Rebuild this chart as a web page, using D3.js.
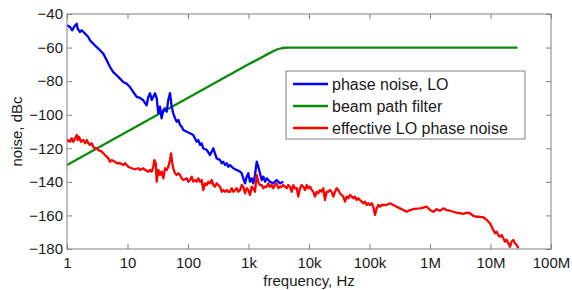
<!DOCTYPE html>
<html>
<head>
<meta charset="utf-8">
<script src="https://cdn.jsdelivr.net/npm/d3@7"></script>
<style>
  html, body { margin: 0; padding: 0; background: #fff; }
  svg { display: block; font-family: "Liberation Sans", Arial, sans-serif; }
</style>
</head>
<body>
<svg id="chart" width="572" height="290"></svg>
<script>
// x ticks (Hz) and their labels
const freqTicks = [1, 10, 100, 1e3, 1e4, 1e5, 1e6, 1e7, 1e8];
const freqTickLabels = ["1", "10", "100", "1k", "10k", "100k", "1M", "10M", "100M"];
const noiseTicks = [-180, -160, -140, -120, -100, -80, -60, -40];

const seriesNames = ["phase noise, LO", "beam path filter", "effective LO phase noise"];
const seriesColors = ["#0000ff", "#0a8a0a", "#ff0000"];

// phase noise, LO
const blueFreq = [1, 1.12, 1.22, 1.36, 1.45, 1.5, 1.64, 1.75, 1.99, 2.25, 2.4, 2.72, 3.1, 3.51, 3.98, 4.53, 5.14, 5.82, 6.62, 7.52,
  8.53, 9.7, 11, 12.5, 14.2, 16.1, 18.2, 20.7, 22.1, 23.6, 25.1, 26.7, 28.5, 30.4, 32.3, 34.4, 36.6, 39.1, 41.7, 44.5,
  47.2, 50.4, 53.8, 57.1, 61, 65, 69.2, 73.8, 78.7, 83.6, 95.3, 108, 122, 139, 148, 158, 168, 179, 204, 231,
  247, 262, 279, 298, 338, 361, 383, 409, 437, 463, 494, 561, 638, 724, 773, 820, 875, 933, 993, 1059,
  1130, 1200, 1279, 1368, 1452, 1549, 1652, 1758, 1875, 2000, 2265, 2570, 2924, 3319, 3758];
const blueNoise = [-46.7, -47.7, -49.7, -46.7, -45.8, -48.8, -50.7, -49.7, -51.7, -53.7, -55.7, -57.7, -59.7, -61.6, -63.6, -67.6, -71.6, -74.6, -76.5, -78.5,
  -80.5, -81.5, -83.5, -86.5, -89.4, -90, -91.4, -94.4, -89.3, -87.2, -91.2, -89.3, -87.2, -90.2, -99.2, -95.2, -102.1, -97.2, -96.2, -98.2,
  -91.2, -87.2, -95.2, -99.2, -102.1, -104.2, -103.1, -106.1, -107.1, -109.1, -110.1, -111.1, -112.1, -116.1, -115.1, -118, -117, -120, -121, -124,
  -122, -120, -123, -126, -127, -128.9, -128, -130, -128.9, -131, -130, -131.9, -132.9, -133.9, -134.9, -137.9, -140.9, -136.9, -134.9, -139.9,
  -137.9, -140.9, -135.9, -128, -131, -134.9, -138.9, -136.9, -139.9, -137.9, -139.9, -140.9, -138.9, -140.9, -139.9];

// beam path filter
const greenFreq = [1, 1000, 1500, 2000, 2500, 3000, 3500, 4000, 4500, 2.8e7];
const greenNoise = [-130, -70, -66.6, -64.2, -62.3, -61, -60.4, -60.1, -60, -60];

// effective LO phase noise
const redFreq = [1, 1.05, 1.12, 1.2, 1.27, 1.36, 1.45, 1.5, 1.58, 1.7, 1.86, 1.99, 2.12, 2.25, 2.4, 2.56, 2.72, 2.9, 3.1, 3.29,
  3.75, 3.98, 4.25, 4.53, 4.82, 5.14, 5.48, 6.21, 6.62, 7.52, 8.53, 9.09, 10.3, 11.7, 13.3, 15.1, 16.1, 18.2, 19.5, 22.1,
  23.6, 25.1, 26.7, 27.7, 29.3, 30.4, 32.3, 34.4, 36.6, 39.1, 41.7, 44.5, 47.2, 50.4, 52.4, 55, 57.1, 61, 65, 69.2,
  73.8, 78.7, 83.6, 95.3, 101, 108, 115, 122, 131, 139, 148, 158, 168, 179, 191, 204, 217, 231, 247, 262,
  279, 298, 317, 338, 361, 383, 409, 437, 463, 494, 527, 561, 598, 638, 678, 724, 773, 820, 875, 933,
  993, 1059, 1130, 1200, 1279, 1368, 1452, 1549, 1652, 1758, 1875, 2000, 2124, 2265, 2418, 2570, 2742, 2924, 3110, 3319,
  3538, 3758, 4276, 4550, 4853, 5176, 5500, 5870, 6264, 6655, 7100, 7574, 8048, 8590, 9160, 9730, 10400, 11090, 11780, 12560,
  13400, 14250, 15200, 16220, 17220, 18370, 19620, 20840, 22230, 23710, 25220, 26900, 28710, 30480, 32520, 34670, 36900, 39350, 41980, 44630,
  47620, 50800, 53950, 57540, 61380, 65310, 69660, 74300, 79000, 84300, 89900, 95500, 101900, 108700, 115600, 123300, 131500, 139700, 149200, 159200,
  169100, 192300, 218300, 247200, 281800, 319300, 362200, 412100, 466700, 529600, 602600, 683900, 774500, 881000, 1.0e6, 1.135e6, 1.291e6, 1.463e6, 1.66e6, 1.888e6,
  2.142e6, 2.428e6, 2.762e6, 3.133e6, 3.551e6, 4.045e6, 4.583e6, 5.2e6, 5.916e6, 6.699e6, 7.603e6, 8.65e6, 9.817e6, 1.047e7, 1.112e7, 1.186e7, 1.265e7, 1.346e7, 1.435e7, 1.531e7,
  1.629e7, 1.738e7, 1.853e7, 1.968e7, 2.1e7, 2.24e7, 2.382e7, 2.541e7, 2.71e7, 2.884e7];
const redNoise = [-116.1, -115.1, -116.1, -114, -116.1, -114, -112.1, -115.1, -113.1, -116.1, -115.1, -117, -115.1, -117, -118, -117, -119.1, -120, -120, -121,
  -122, -123, -124, -125, -126, -128, -127, -128, -128.9, -128.9, -130, -128.9, -131, -131.9, -132.5, -131.9, -132.9, -131.9, -132.9, -133.9,
  -132.9, -133.9, -131, -127, -128.9, -139.9, -132.9, -135.9, -133.9, -137.9, -131.9, -132.9, -131, -127, -123, -128.9, -131.9, -134.9, -135.9, -134.9,
  -135.9, -137.9, -138.9, -137.9, -139.9, -138.9, -136.9, -139.9, -138.9, -139.9, -137.9, -139.9, -138.9, -144.9, -140.9, -141.9, -139.9, -140.9, -138.9, -141.9,
  -142.9, -140.9, -141.9, -142.9, -145.9, -144.9, -145.9, -144.9, -145.9, -145.9, -143.8, -145.9, -144.9, -143.8, -145.9, -144.9, -141.9, -142.9, -146.8, -143.8,
  -144.9, -147.8, -142.9, -143.8, -145.9, -135.9, -139.9, -141.9, -141.9, -143.8, -142.9, -142.9, -140.9, -142.9, -141.9, -143.8, -141.9, -140.9, -143.8, -142.9,
  -142.9, -141.9, -143.8, -141.9, -142.9, -145.9, -141.9, -143.8, -143.8, -148.8, -143.8, -141.9, -142.9, -144.9, -141.9, -143.8, -142.9, -144.9, -145.9, -148.8,
  -145.9, -146.8, -144.9, -145.9, -143.8, -150.8, -145.9, -145.9, -144.9, -145.9, -148.8, -145.9, -143.8, -144.9, -146.8, -147.8, -148.8, -151.8, -148.8, -149.8,
  -147.8, -148.8, -149.8, -148.8, -150.8, -149.8, -150.8, -151.8, -152.8, -151.8, -153.8, -152.8, -153.8, -152.8, -154.8, -159.7, -155.8, -153.8, -154.8, -153.8,
  -153.8, -153.8, -152.8, -153.8, -154.8, -155.8, -156.8, -157.8, -156.8, -156.3, -156, -155.8, -155.4, -154.8, -156.8, -157.8, -156.3, -157.2, -155.8, -156.8,
  -157.2, -157.8, -158.4, -158.7, -159.1, -158.4, -158.7, -160.3, -160.8, -160.8, -161.1, -162.7, -164.7, -166.7, -168.7, -170.6, -169.7, -171.7, -172.7, -171.7,
  -173.6, -175.6, -174.6, -176.6, -178.6, -175.6, -174.6, -176.6, -177.6, -179.6];

const W = 572, H = 290;
const margin = { left: 67, top: 14, right: 21, bottom: 41 };
const plotW = W - margin.left - margin.right;
const plotH = H - margin.top - margin.bottom;

const svg = d3.select("#chart");
svg.append("rect").attr("width", W).attr("height", H).attr("fill", "#fff");

const x = d3.scaleLog().domain([1, 1e8]).range([margin.left, margin.left + plotW]);
const y = d3.scaleLinear().domain([-180, -40]).range([margin.top + plotH, margin.top]);

const axisColor = "#808080";
const textColor = "#1a1a1a";

svg.append("clipPath").attr("id", "plotClip")
  .append("rect")
  .attr("x", margin.left).attr("y", margin.top - 2)
  .attr("width", plotW).attr("height", plotH + 4);

// axes with inward ticks (MATLAB style box)
function styleAxis(g, showText) {
  g.select(".domain").remove();
  g.selectAll(".tick line").attr("stroke", axisColor);
  g.selectAll(".tick text")
    .attr("fill", textColor)
    .attr("font-size", 15)
    .style("display", showText ? null : "none");
}

svg.append("g")
  .attr("transform", `translate(0,${margin.top + plotH})`)
  .call(d3.axisBottom(x).tickValues(freqTicks)
    .tickFormat((d, i) => freqTickLabels[i])
    .tickSizeInner(-5).tickSizeOuter(0).tickPadding(8))
  .call(g => styleAxis(g, true));

svg.append("g")
  .attr("transform", `translate(0,${margin.top})`)
  .call(d3.axisTop(x).tickValues(freqTicks).tickSizeInner(-5).tickSizeOuter(0))
  .call(g => styleAxis(g, false));

svg.append("g")
  .attr("transform", `translate(${margin.left},0)`)
  .call(d3.axisLeft(y).tickValues(noiseTicks).tickSizeInner(-5).tickSizeOuter(0).tickPadding(4))
  .call(g => styleAxis(g, true));

svg.append("g")
  .attr("transform", `translate(${margin.left + plotW},0)`)
  .call(d3.axisRight(y).tickValues(noiseTicks).tickSizeInner(-5).tickSizeOuter(0))
  .call(g => styleAxis(g, false));

// lines
const line = d3.line().x(d => x(d.f)).y(d => y(d.v));
const zip = (fs, vs) => fs.map((f, i) => ({ f: f, v: vs[i] }));
const series = [zip(blueFreq, blueNoise), zip(greenFreq, greenNoise), zip(redFreq, redNoise)];

const drawOrder = [1, 0, 2];
drawOrder.forEach(i => {
  svg.append("path")
    .datum(series[i])
    .attr("clip-path", "url(#plotClip)")
    .attr("fill", "none")
    .attr("stroke", seriesColors[i])
    .attr("stroke-width", 2.3)
    .attr("stroke-linejoin", "round")
    .attr("d", line);
});

// box
svg.append("rect")
  .attr("x", margin.left).attr("y", margin.top)
  .attr("width", plotW).attr("height", plotH)
  .attr("fill", "none").attr("stroke", axisColor).attr("stroke-width", 1);

// axis titles
svg.append("text")
  .attr("x", margin.left + plotW / 2).attr("y", 286)
  .attr("text-anchor", "middle").attr("font-size", 15).attr("fill", textColor)
  .text("frequency, Hz");

svg.append("text")
  .attr("transform", `translate(22,${margin.top + plotH / 2}) rotate(-90)`)
  .attr("text-anchor", "middle").attr("font-size", 15).attr("fill", textColor)
  .text("noise, dBc");

// legend
const legend = svg.append("g").attr("transform", "translate(286,71)");
legend.append("rect")
  .attr("width", 239).attr("height", 68)
  .attr("fill", "#fff").attr("stroke", axisColor).attr("stroke-width", 1);
seriesNames.forEach((name, i) => {
  const ly = 13 + i * 22;
  legend.append("line")
    .attr("x1", 7).attr("x2", 42).attr("y1", ly).attr("y2", ly)
    .attr("stroke", seriesColors[i]).attr("stroke-width", 2.3);
  legend.append("text")
    .attr("x", 46).attr("y", ly).attr("dy", "0.35em")
    .attr("font-size", 16).attr("fill", textColor)
    .text(name);
});
</script>
</body>
</html>
